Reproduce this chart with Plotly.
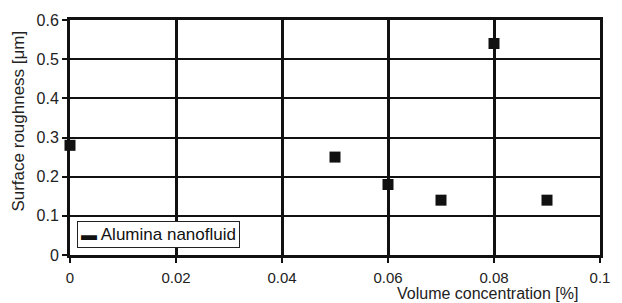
import plotly.graph_objects as go

conc = [0.0, 0.05, 0.06, 0.07, 0.08, 0.09]
roughness = [0.28, 0.25, 0.18, 0.14, 0.54, 0.14]
series_name = "Alumina nanofluid"
x_ticks = [0, 0.02, 0.04, 0.06, 0.08, 0.1]
x_ticklabels = ["0", "0.02", "0.04", "0.06", "0.08", "0.1"]
y_ticks = [0, 0.1, 0.2, 0.3, 0.4, 0.5, 0.6]
y_ticklabels = ["0", "0.1", "0.2", "0.3", "0.4", "0.5", "0.6"]

FAM = "Liberation Sans, Arial, sans-serif"
xtick_font = dict(family=FAM, size=15, color="#222222")
ytick_font = dict(family=FAM, size=16, color="#222222")
title_font = dict(family=FAM, size=16, color="#222222")
ytitle_font = dict(family=FAM, size=17, color="#222222")

fig = go.Figure()
fig.add_trace(go.Scatter(
    x=conc, y=roughness, mode="markers", name=series_name,
    marker=dict(symbol="square", size=11, color="#111111"),
    showlegend=False, cliponaxis=False,
))

fig.update_layout(
    width=622, height=303,
    margin=dict(l=70, r=12, t=19, b=48),
    plot_bgcolor="white", paper_bgcolor="white",
    font=ytick_font,
)
fig.update_xaxes(
    range=[0, 0.1], tickvals=x_ticks, ticktext=x_ticklabels,
    showgrid=True, gridcolor="#111111", gridwidth=3,
    showline=True, linecolor="#111111", linewidth=3, mirror=True,
    ticks="outside", ticklen=5, tickwidth=2, tickcolor="#111111",
    ticklabelstandoff=2,
    zeroline=False, tickfont=xtick_font,
)
fig.update_yaxes(
    range=[0, 0.6], tickvals=y_ticks, ticktext=y_ticklabels,
    showgrid=True, gridcolor="#111111", gridwidth=2,
    showline=True, linecolor="#111111", linewidth=3, mirror=True,
    ticks="outside", ticklen=5, tickwidth=2, tickcolor="#111111",
    zeroline=False, tickfont=ytick_font,
)
# axis titles
fig.add_annotation(
    text="Volume concentration [%]", xref="paper", yref="paper",
    x=0.787, y=-0.163, xanchor="center", yanchor="middle", showarrow=False,
    font=title_font,
)
fig.add_annotation(
    text="Surface roughness [μm]", xref="paper", yref="paper",
    x=-0.098, y=0.568, xanchor="center", yanchor="middle", showarrow=False,
    textangle=-90, font=ytitle_font,
)
# legend box
fig.add_annotation(
    text="<span style='font-size:16px'>▬</span> " + series_name,
    xref="paper", yref="paper",
    x=0.013, y=0.03, xanchor="left", yanchor="bottom", showarrow=False,
    font=dict(family=FAM, size=17, color="#111111"),
    bgcolor="white", bordercolor="#222222", borderwidth=1, borderpad=3,
)

fig.write_html("out.html", config={"displayModeBar": False},
               post_script="document.body.style.margin='0';")
